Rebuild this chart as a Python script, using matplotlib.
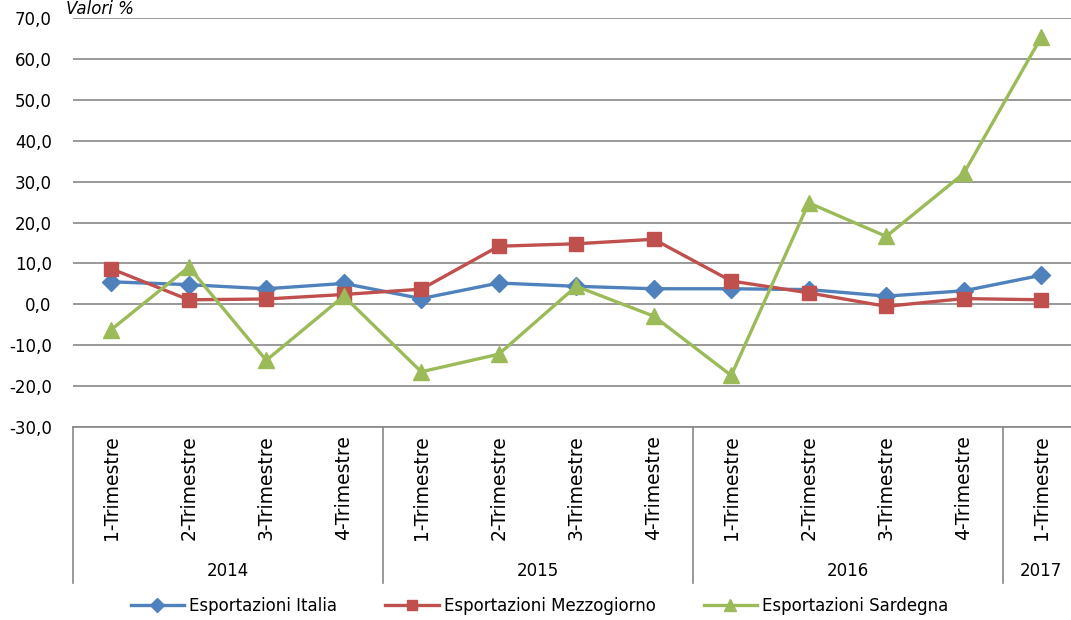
import matplotlib
matplotlib.use("Agg")
import matplotlib.pyplot as plt
import matplotlib.transforms as mtransforms

plt.rcParams['font.family'] = ['DejaVu Sans']

years = ["2014", "2015", "2016", "2017"]
quarters_per_year = [4, 4, 4, 1]
quarter_labels = ["1-Trimestre", "2-Trimestre", "3-Trimestre", "4-Trimestre",
                  "1-Trimestre", "2-Trimestre", "3-Trimestre", "4-Trimestre",
                  "1-Trimestre", "2-Trimestre", "3-Trimestre", "4-Trimestre",
                  "1-Trimestre"]

italia = [5.5, 4.8, 3.8, 5.1, 1.4, 5.2, 4.4, 3.8, 3.8, 3.6, 2.0, 3.3, 7.1]
mezzogiorno = [8.7, 1.1, 1.3, 2.4, 3.7, 14.2, 14.8, 15.9, 5.7, 2.8, -0.5, 1.4, 1.1]
sardegna = [-6.2, 9.1, -13.7, 2.0, -16.5, -12.2, 4.4, -2.9, -17.4, 24.8, 16.6, 32.0, 65.3]

series_names = ["Esportazioni Italia", "Esportazioni Mezzogiorno", "Esportazioni Sardegna"]
colors = ["#4F81BD", "#C0504D", "#9BBB59"]
markers = ["D", "s", "^"]
msizes = [9, 10, 11]

W, H = 1071, 620
fig = plt.figure(figsize=(W / 100, H / 100), dpi=100)
left, right, top, bottom = 72.5, 1080, 18, 427
ax = fig.add_axes([left / W, 1 - bottom / H, (right - left) / W, (bottom - top) / H])

x = list(range(len(quarter_labels)))
for vals, name, c, m, ms in zip([italia, mezzogiorno, sardegna], series_names, colors, markers, msizes):
    ax.plot(x, vals, color=c, lw=2.4, marker=m, markersize=ms, label=name, zorder=3)

ax.set_xlim(-0.5, len(x) - 0.5)
ax.set_ylim(-30, 70)
yticks = list(range(-30, 71, 10))
ax.set_yticks(yticks)
ax.set_yticklabels([f"{v:.1f}".replace(".", ",") for v in yticks], fontsize=12)
ax.tick_params(axis='y', length=0, pad=15)
ax.grid(axis='y', color='#878787', lw=1.2, zorder=0)
for s in ['left', 'right', 'top']:
    ax.spines[s].set_visible(False)
ax.spines['bottom'].set_color('#878787')
ax.spines['bottom'].set_linewidth(1.2)

ax.set_xticks(x)
ax.set_xticklabels(quarter_labels, rotation=90, fontsize=13.5)
ax.tick_params(axis='x', length=0, pad=6)

trans = mtransforms.blended_transform_factory(ax.transData, ax.transAxes)
sep_depth = -(583 - 427) / (bottom - top)
year_y = -(571 - 427) / (bottom - top)
start = 0
bounds = [-0.5]
for yr, n in zip(years, quarters_per_year):
    end = start + n
    bounds.append(end - 0.5)
    ax.text((start + end - 1) / 2, year_y, yr, transform=trans, ha='center', va='center', fontsize=12)
    start = end
for b in bounds[:-1]:
    ax.plot([b, b], [0, sep_depth], transform=trans, color='#878787', lw=1.2, clip_on=False)

fig.text(66 / W, 1 - 14 / H, "Valori %", style='italic', fontsize=12, va='baseline', ha='left')

fig.legend(loc='center', bbox_to_anchor=(539.5 / W, 14 / H), ncol=3, frameon=False, fontsize=12,
           handlelength=3.2, handletextpad=0.3, columnspacing=2.9, borderpad=0, markerscale=0.75)

fig.savefig("out.png", dpi=100)
